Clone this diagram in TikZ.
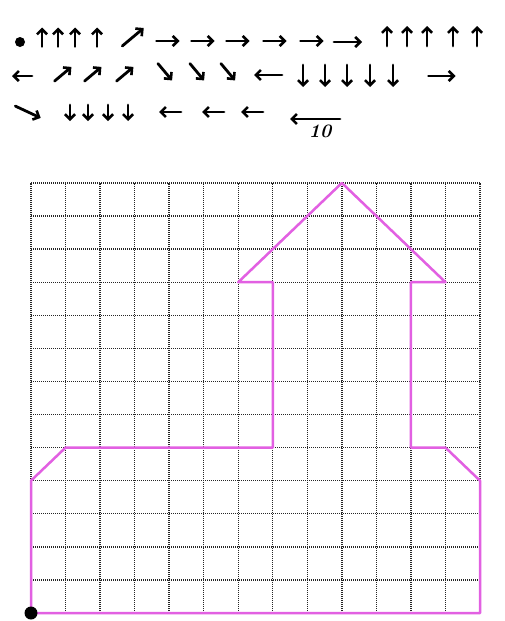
\documentclass[tikz,border=0pt]{standalone}
\usetikzlibrary{arrows.meta}
\definecolor{pen}{RGB}{226,96,226}
\tikzset{
  hand/.style={line width=2.8pt, line cap=round, -{Straight Barb[length=5pt,width=10pt,line width=2.6pt]}},
  gridline/.style={line width=1.4pt, dash pattern=on 1.4pt off 0.6pt, black!85},
  outline/.style={draw=pen, line width=2.5pt, line join=round, line cap=round},
}
\newcommand\harr[4]{\draw[hand, shift={(#1,#2)}, rotate=#3] ({-#4/2},0) -- ({#4/2},0);}
\begin{document}
\begin{tikzpicture}[x=1pt,y=-1pt]
\useasboundingbox (0,0) rectangle (505,621);
\fill[white] (0,0) rectangle (505,621);
% row 1
\fill (20,42) circle[radius=5pt];
\foreach \x in {42,58,75,97} {\harr{\x}{37}{90}{19}}
\harr{133}{37}{40}{28}
\foreach \x in {168,203,238,275,312} {\harr{\x}{41}{0}{23}}
\harr{348}{42}{0}{28}
\foreach \x in {387,407,427,453,477} {\harr{\x}{36}{90}{20}}
% row 2
\harr{22}{76}{180}{20}
\foreach \x in {63,93,125} {\harr{\x}{74}{40}{22}}
\foreach \x in {165,197,228} {\harr{\x}{72}{-50}{22}}
\harr{268}{75}{180}{28}
\foreach \x in {303,325,347,370,393} {\harr{\x}{76}{-90}{22}}
\harr{442}{76}{0}{27}
% row 3
\harr{28}{112}{-25}{28}
\foreach \x in {70,88,108,128} {\harr{\x}{113}{-90}{16}}
\foreach \x in {170,213,252} {\harr{\x}{112}{180}{22}}
\harr{315}{119}{180}{50}
\node[font=\fontsize{19}{19}\selectfont\bfseries\itshape, inner sep=0pt] (ten) at (320,131) {10};
% grid
\begin{scope}[shift={(31,613)}, x=34.54pt, y=33.08pt]
  \foreach \i in {0,...,13} {
    \draw[gridline] (\i,0) -- (\i,13);
    \draw[gridline] (0,\i) -- (13,\i);
  }
  \coordinate (p0) at (0,0);
  \coordinate (p1) at (0,4);
  \coordinate (p2) at (1,5);
  \coordinate (p3) at (7,5);
  \coordinate (p4) at (7,10);
  \coordinate (p5) at (6,10);
  \coordinate (p6) at (9,13);
  \coordinate (p7) at (12,10);
  \coordinate (p8) at (11,10);
  \coordinate (p9) at (11,5);
  \coordinate (p10) at (12,5);
  \coordinate (p11) at (13,4);
  \coordinate (p12) at (13,0);
  \draw[outline] (p0) -- (p1) -- (p2) -- (p3) -- (p4) -- (p5) -- (p6) -- (p7) -- (p8) -- (p9) -- (p10) -- (p11) -- (p12) -- cycle;
  \fill (p0) circle[radius=6.5pt];
\end{scope}
\end{tikzpicture}
\end{document}
